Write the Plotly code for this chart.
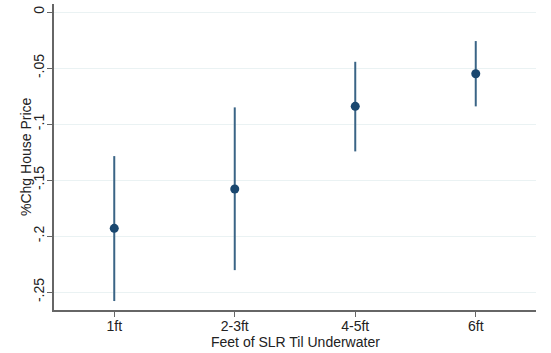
import plotly.graph_objects as go

categories = ["1ft", "2-3ft", "4-5ft", "6ft"]
estimate = [-0.1931, -0.158, -0.0842, -0.0551]
ci_upper = [-0.1286, -0.0851, -0.0444, -0.0259]
ci_lower = [-0.258, -0.2304, -0.1244, -0.0842]
y_tickvals = [0, -0.05, -0.1, -0.15, -0.2, -0.25]
y_ticktext = ["0", "-.05", "-.1", "-.15", "-.2", "-.25"]

xpos = list(range(1, len(categories) + 1))

fig = go.Figure()
fig.add_trace(go.Scatter(
    x=xpos, y=estimate, mode="markers",
    marker=dict(size=9, color="#1a476f"),
    error_y=dict(type="data", symmetric=False,
                 array=[u - e for u, e in zip(ci_upper, estimate)],
                 arrayminus=[e - l for e, l in zip(estimate, ci_lower)],
                 width=0, thickness=2, color="#3a6486"),
    showlegend=False))

font = "Liberation Sans, Arial, sans-serif"
W, H = 551, 353
ml, mr, mt, mb = 54, 15, 4, 43
pw, ph = W - ml - mr, H - mt - mb

fig.update_layout(
    width=W, height=H,
    margin=dict(l=ml, r=mr, t=mt, b=mb),
    paper_bgcolor="white", plot_bgcolor="white",
    font=dict(family=font, size=14, color="#222"),
)
fig.update_xaxes(
    range=[0.5, 4.5], tickvals=xpos, ticktext=categories,
    showgrid=False, zeroline=False,
    showline=True, linecolor="#666", linewidth=1.5,
    ticks="outside", ticklen=5, tickcolor="#666", tickwidth=1.2,
    ticklabelstandoff=-3,
    tickfont=dict(size=14, family=font, color="#222"),
)
fig.update_yaxes(
    range=[-0.266, 0.0072], tickvals=y_tickvals, ticktext=y_ticktext,
    tickangle=-90,
    showgrid=True, gridcolor="#eaf2f3", gridwidth=1.2, zeroline=False,
    showline=True, linecolor="#666", linewidth=1.5,
    ticks="outside", ticklen=5, tickcolor="#666", tickwidth=1.2,
    ticklabelstandoff=-2,
    tickfont=dict(size=14, family=font, color="#222"),
)
# axis titles placed as annotations (pixel-tuned positions)
fig.add_annotation(
    text="%Chg House Price", textangle=-90, showarrow=False,
    xref="paper", yref="paper",
    x=(26 - ml) / pw, y=(H - mb - 157) / ph,
    xanchor="center", yanchor="middle",
    font=dict(size=14, family=font, color="#222"))
fig.add_annotation(
    text="Feet of SLR Til Underwater", showarrow=False,
    xref="paper", yref="paper",
    x=(295 - ml) / pw, y=(H - mb - 342) / ph,
    xanchor="center", yanchor="middle",
    font=dict(size=14, family=font, color="#222"))
fig.write_html("out.html")
